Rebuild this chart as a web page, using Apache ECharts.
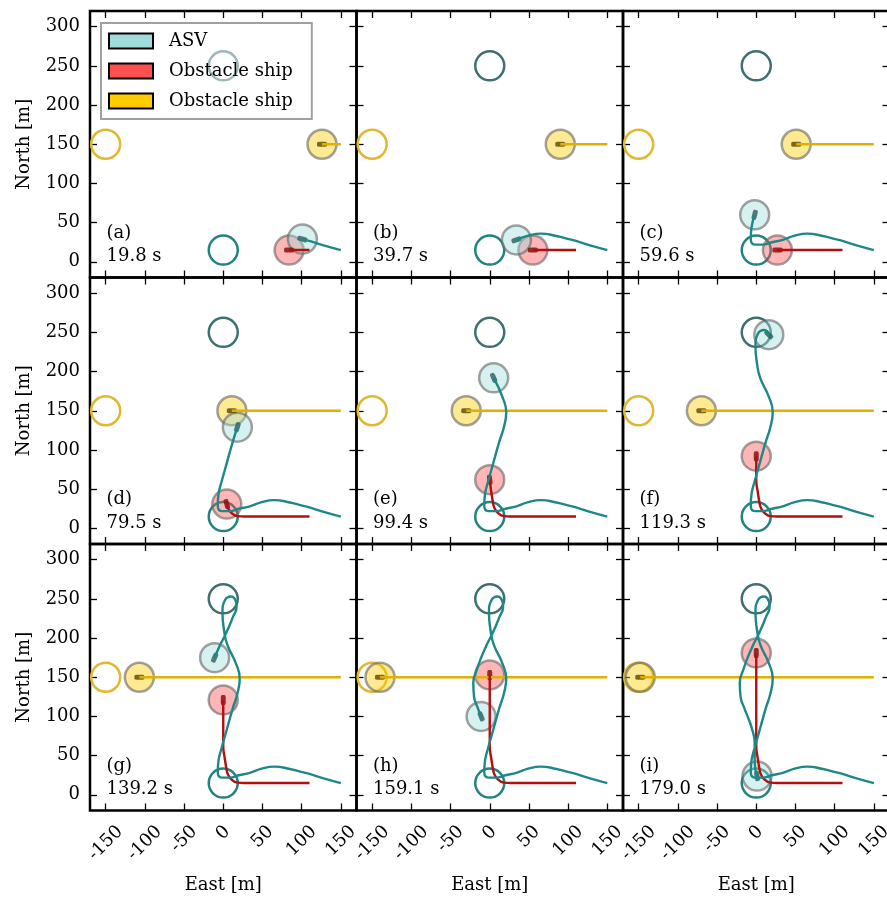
<!DOCTYPE html>
<html>
<head>
<meta charset="utf-8">
<title>ASV collision avoidance snapshots</title>
<script src="https://cdn.jsdelivr.net/npm/echarts@6.0.0/dist/echarts.min.js"></script>
<style>
  html, body { margin: 0; padding: 0; background: #fff; }
  #chart { width: 887px; height: 899px; }
</style>
</head>
<body>
<div id="chart"></div>
<script>
// panel tags and snapshot times
const panelTags = ['(a)', '(b)', '(c)', '(d)', '(e)', '(f)', '(g)', '(h)', '(i)'];
const panelTimes = ['19.8 s', '39.7 s', '59.6 s', '79.5 s', '99.4 s', '119.3 s', '139.2 s', '159.1 s', '179.0 s'];

const xTicks = [-150, -100, -50, 0, 50, 100, 150];
const xTickLabels = ['-150', '-100', '-50', '0', '50', '100', '150'];
const yTicks = [0, 50, 100, 150, 200, 250, 300];
const yTickLabels = ['0', '50', '100', '150', '200', '250', '300'];

// waypoints (hollow rings)
const asvWaypoints = [[0, 15], [0, 250]];
const yellowGoal = [[-150, 150]];

// trajectories [east, north]
const asvPath = [
  [150, 15], [128, 21], [112, 26], [101, 29],
  [85, 33], [65, 36], [48, 33], [34, 28],
  [20, 25], [8, 22], [-2, 22], [-7, 29], [-6, 44], [-2, 60],
  [5, 85], [12, 110], [18, 129],
  [21, 148], [16, 168], [5, 192],
  [1, 210], [-1, 233], [2, 248], [10, 253], [16, 247],
  [17, 240], [12, 226], [4, 207], [-4, 191], [-11, 175],
  [-16, 161], [-21, 143], [-20, 125], [-15, 110], [-11, 100],
  [-6, 86], [-2, 66], [-2, 42], [1, 24]
];
const redPath = [
  [110, 15], [84, 15], [55, 15], [27, 15], [18, 15.5], [10, 20], [6, 26], [4.5, 31],
  [2, 46], [0, 62], [0, 92], [0, 121], [0, 153], [0, 181]
];
const yellowPath = [
  [150, 150], [126, 150], [90, 150], [51, 150], [11, 150], [-30, 150],
  [-70, 150], [-107, 150], [-140, 150], [-148, 150]
];

// current position (index in path) for each panel
const asvIdx = [3, 7, 13, 16, 19, 24, 29, 34, 38];
const redIdx = [1, 2, 3, 7, 9, 10, 11, 12, 13];
const yellowIdx = [1, 2, 3, 4, 5, 6, 7, 8, 9];

const shipRadius = 18.5;

const FONT = '"DejaVu Serif", serif';
const FS = 18;
const cell = 266.5, left0 = 90, top0 = 11;

const ringStyles = [
  {fill: 'none', stroke: '#238282', lineWidth: 2.5},
  {fill: 'none', stroke: '#3e7070', lineWidth: 2.5}
];
const goalStyle = [{fill: 'none', stroke: '#e1b830', lineWidth: 2.5}];
const shipStyles = [
  {fill: 'rgba(255,204,0,0.42)', stroke: 'rgba(100,100,100,0.6)', lineWidth: 2.5},
  {fill: 'rgba(255,80,80,0.42)', stroke: 'rgba(100,100,100,0.6)', lineWidth: 2.5},
  {fill: 'rgba(160,220,220,0.42)', stroke: 'rgba(100,100,100,0.6)', lineWidth: 2.5}
];
const markerColors = ['#5a4700', '#7d0909', '#2c5c5c'];

// rotated x labels centred under the tick like matplotlib
const ctx = document.createElement('canvas').getContext('2d');
ctx.font = FS + 'px ' + FONT;
const xRich = {};
xTickLabels.forEach((s, j) => {
  const p = (ctx.measureText(s).width + FS) / 2;
  xRich['t' + j] = {padding: [p, p, 0, 0], fontFamily: FONT, fontSize: FS, color: '#000'};
});

function heading(path, i) {
  const a = path[Math.max(i - 1, 0)], b = path[i];
  return Math.atan2(b[1] - a[1], b[0] - a[0]) * 180 / Math.PI;
}

function circles(k, points, styles) {
  return {
    type: 'custom', xAxisIndex: 2 * k, yAxisIndex: 2 * k, silent: true,
    data: points,
    renderItem: function (params, api) {
      const c = api.coord([api.value(0), api.value(1)]);
      const r = api.size([shipRadius, 0])[0];
      return {type: 'circle', shape: {cx: c[0], cy: c[1], r: r}, style: styles[params.dataIndex]};
    }
  };
}

function track(k, path, n, color) {
  return {
    type: 'line', xAxisIndex: 2 * k, yAxisIndex: 2 * k, silent: true,
    data: path.slice(0, n + 1), showSymbol: false, smooth: 0.5,
    lineStyle: {color: color, width: 2.4}
  };
}

const grids = [], xAxes = [], yAxes = [], series = [], graphics = [];
const tick = {inside: true, length: 7, lineStyle: {color: '#000', width: 1.3}};

for (let k = 0; k < 9; k++) {
  const r = Math.floor(k / 3), c = k % 3;
  const gl = left0 + c * cell, gt = top0 + r * cell;
  grids.push({left: gl, top: gt, width: cell, height: cell, show: true, outerBoundsMode: 'none',
    borderColor: '#000', borderWidth: 2.5, backgroundColor: 'transparent'});

  const xBase = {gridIndex: k, type: 'value', min: -170, max: 170,
    axisLine: {show: false, onZero: false}, splitLine: {show: false}};
  xAxes.push(Object.assign({}, xBase, {
    position: 'bottom',
    axisTick: Object.assign({customValues: xTicks}, tick),
    axisLabel: {show: r === 2, customValues: xTicks, rotate: 45, margin: 12,
      align: 'center', verticalAlign: 'middle', rich: xRich,
      formatter: v => { const j = xTicks.indexOf(v); return '{t' + j + '|' + xTickLabels[j] + '}'; }},
    name: r === 2 ? 'East [m]' : '', nameLocation: 'middle', nameGap: 66,
    nameTextStyle: {fontFamily: FONT, fontSize: FS, color: '#000'}
  }));
  xAxes.push(Object.assign({}, xBase, {
    position: 'top', axisTick: Object.assign({customValues: xTicks}, tick), axisLabel: {show: false}
  }));

  const yBase = {gridIndex: k, type: 'value', min: -20, max: 320,
    axisLine: {show: false, onZero: false}, splitLine: {show: false}};
  yAxes.push(Object.assign({}, yBase, {
    position: 'left',
    axisTick: Object.assign({customValues: yTicks}, tick),
    axisLabel: {show: c === 0, customValues: yTicks, margin: 10,
      fontFamily: FONT, fontSize: FS, color: '#000',
      formatter: v => yTickLabels[yTicks.indexOf(v)]},
    name: c === 0 ? 'North [m]' : '', nameLocation: 'middle', nameGap: 57,
    nameTextStyle: {fontFamily: FONT, fontSize: FS, color: '#000'}
  }));
  yAxes.push(Object.assign({}, yBase, {
    position: 'right', axisTick: Object.assign({customValues: yTicks}, tick), axisLabel: {show: false}
  }));

  // rings, ships, tracks, ship markers
  series.push(circles(k, asvWaypoints, ringStyles));
  series.push(circles(k, yellowGoal, goalStyle));
  const pos = [yellowPath[yellowIdx[k]], redPath[redIdx[k]], asvPath[asvIdx[k]]];
  series.push(circles(k, pos, shipStyles));
  series.push(track(k, yellowPath, yellowIdx[k], '#dfb000'));
  series.push(track(k, redPath, redIdx[k], '#b30f0f'));
  series.push(track(k, asvPath, asvIdx[k], '#1e8787'));
  const rot = [heading(yellowPath, yellowIdx[k]), heading(redPath, redIdx[k]), heading(asvPath, asvIdx[k])];
  series.push({
    type: 'scatter', xAxisIndex: 2 * k, yAxisIndex: 2 * k, silent: true,
    symbol: 'roundRect', symbolSize: [10, 5],
    data: pos.map((p, i) => ({value: p, symbolRotate: rot[i], itemStyle: {color: markerColors[i]}}))
  });

  graphics.push({
    type: 'text', x: gl + 16.5, y: gt + 210,
    style: {text: panelTags[k] + '\n' + panelTimes[k], font: FS + 'px ' + FONT, fill: '#000',
      lineHeight: 23.7, verticalAlign: 'top'}
  });
}

// legend entries (dummy series)
const legendNames = ['ASV', 'Obstacle ship', 'Obstacle ship '];
const legendColors = ['#a0dcdc', '#ff5050', '#ffcc00'];
legendNames.forEach(n => series.push({type: 'custom', name: n, data: [], renderItem: () => null}));

const chart = echarts.init(document.getElementById('chart'));
chart.setOption({
  animation: false,
  grid: grids,
  xAxis: xAxes,
  yAxis: yAxes,
  legend: {
    orient: 'vertical', left: 101, top: 23, selectedMode: false,
    backgroundColor: 'rgba(255,255,255,0.5)', borderColor: '#a0a0a0', borderWidth: 2,
    padding: [9, 19, 9, 7], itemGap: 12, itemWidth: 44, itemHeight: 15, icon: 'rect',
    itemStyle: {borderColor: '#000', borderWidth: 2},
    textStyle: {fontFamily: FONT, fontSize: FS, color: '#000', padding: [0, 0, 0, 11]},
    formatter: n => n.trim(),
    data: legendNames.map((n, i) => ({name: n, itemStyle: {color: legendColors[i]}}))
  },
  graphic: graphics,
  series: series
});
</script>
</body>
</html>
